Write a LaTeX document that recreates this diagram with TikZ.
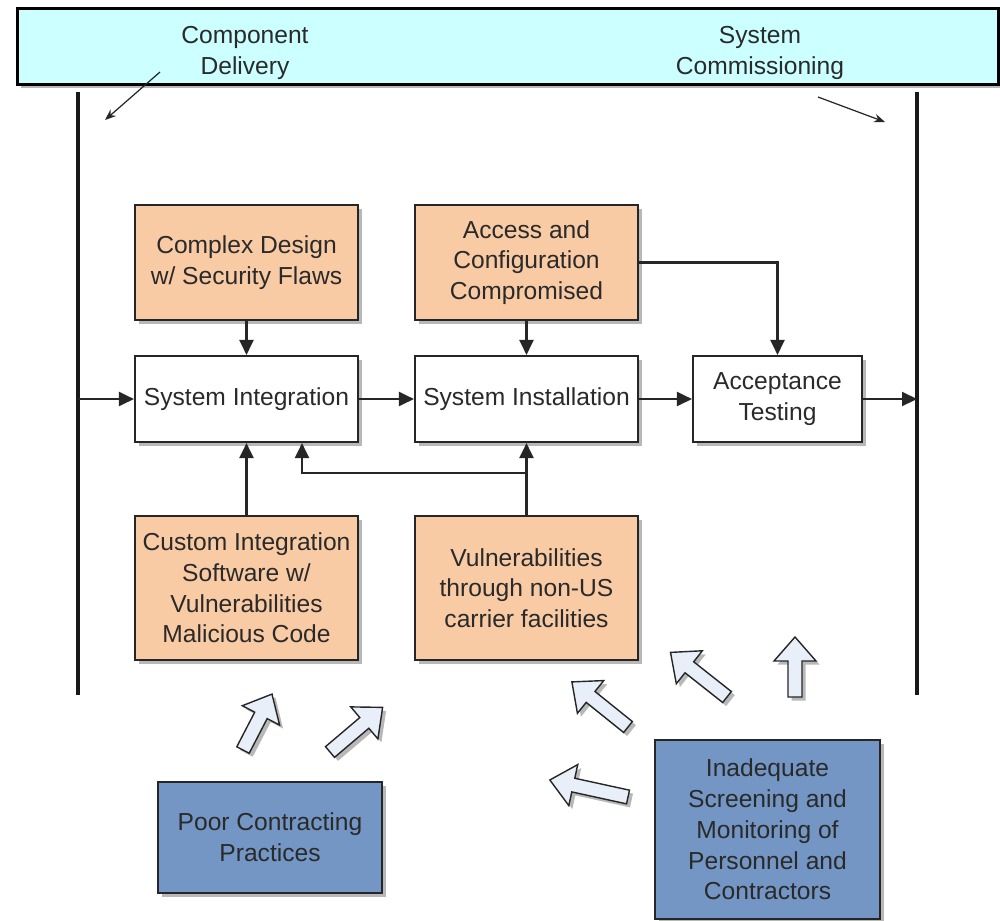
\documentclass[tikz,border=0pt]{standalone}
\usepackage{fontspec}
\setmainfont{Liberation Sans}
\usetikzlibrary{shadows,arrows.meta,calc}
\definecolor{peach}{HTML}{F9CBA5}
\definecolor{bluebox}{HTML}{7396C4}
\definecolor{bandcyan}{HTML}{CCFFFF}
\definecolor{fatfill}{HTML}{E8EFF9}
\definecolor{txt}{HTML}{2A2A2A}
\definecolor{shade}{HTML}{B8B8B8}
\tikzset{
  softshadow/.style={drop shadow={shadow xshift=0.7mm, shadow yshift=-0.7mm, opacity=1, fill=shade, draw=none}},
  basebox/.style={draw=black!85, line width=1.2pt, align=center, text=txt,
    font=\fontsize{14}{17.5}\selectfont, inner sep=0pt, softshadow},
  riskbox/.style={basebox, fill=peach, minimum width=44.6mm, minimum height=23mm},
  stagebox/.style={basebox, fill=white, minimum width=44.6mm, minimum height=17.2mm},
  causebox/.style={basebox, fill=bluebox},
  band/.style={draw=black, line width=1.7pt, fill=bandcyan, minimum width=196mm, minimum height=15.2mm, softshadow},
  bandlabel/.style={align=center, text=txt, font=\fontsize{14}{17.5}\selectfont},
  flow/.style={draw=black!85, line width=1.2pt, -{Triangle[length=3mm,width=2.8mm]}},
  thinarr/.style={draw=black!85, line width=0.7pt, -{Stealth[length=2.2mm,width=1.7mm]}},
  rail/.style={draw=black!90, line width=1.8pt},
  fatarr/.style={draw=black!85, line width=0.8pt, fill=fatfill, line join=miter, softshadow}
}
\newcommand\fatarrow[4]{%
  \draw[fatarr, shift={(#1,#2)}, rotate=#3]
    (0,-7) -- (#4-24,-7) -- (#4-24,-21) -- (#4,0) -- (#4-24,21) -- (#4-24,7) -- (0,7) -- cycle;}
\begin{document}
\begin{tikzpicture}[x=0.2mm,y=-0.2mm]
\useasboundingbox (0,0) rectangle (1000,920);

% top band
\node[band] (band) at (508,46) {};
\node[bandlabel] (cdl) at (245,53) {Component\\Delivery};
\node[bandlabel] (scl) at (760,53) {System\\Commissioning};

% rails
\coordinate (Ltop) at (78,92);
\coordinate (Lbot) at (78,695);
\coordinate (Rtop) at (917,92);
\coordinate (Rbot) at (917,695);
\coordinate (Lmid) at (78,399);
\coordinate (Rmid) at (917,399);
\draw[rail] (Ltop) -- (Lbot);
\draw[rail] (Rtop) -- (Rbot);

% thin arrows from band labels
\coordinate (cdA) at (160,72);
\coordinate (cdB) at (105,120);
\coordinate (scA) at (818,97);
\coordinate (scB) at (885,122);
\draw[thinarr] (cdA) -- (cdB);
\draw[thinarr] (scA) -- (scB);

% boxes
\node[riskbox] (cd) at (246.5,262.5) {Complex Design\\w/ Security Flaws};
\node[riskbox] (ac) at (526.5,262.5) {Access and\\Configuration\\Compromised};
\node[stagebox] (si) at (246.5,399) {System Integration};
\node[stagebox] (sn) at (526.5,399) {System Installation};
\node[stagebox, minimum width=33.8mm] (at) at (777.5,399) {Acceptance\\Testing};
\node[riskbox, minimum height=28.8mm] (cu) at (246.5,588) {Custom Integration\\Software w/\\Vulnerabilities\\Malicious Code};
\node[riskbox, minimum height=28.8mm] (vu) at (526.5,588) {Vulnerabilities\\through non-US\\carrier facilities};
\node[causebox, minimum width=44.8mm, minimum height=22.2mm] (pc) at (270,837.5) {Poor Contracting\\Practices};
\node[causebox, minimum width=45mm, minimum height=35.8mm] (in) at (767.5,829.5) {Inadequate\\Screening and\\Monitoring of\\Personnel and\\Contractors};

% flow connectors
\draw[flow] (Lmid) -- (si.west);
\draw[flow] (si.east) -- (sn.west);
\draw[flow] (sn.east) -- (at.west);
\draw[flow] (at.east) -- (Rmid);
\draw[flow] (cd.south) -- (si.north);
\draw[flow] (ac.south) -- (sn.north);
\draw[flow] (ac.east) -| (at.north);
\draw[flow] (cu.north) -- (si.south);
\draw[flow] (vu.north) -- (sn.south);
\draw[flow] (vu.north) -- ++(0,-42) -| ($(si.south)+(55.5,0)$);

% fat arrows
\fatarrow{243}{750}{62.6}{63}
\fatarrow{330}{752}{40.3}{69}
\fatarrow{628}{727}{141.2}{72}
\fatarrow{727}{697}{141.7}{72}
\fatarrow{795}{697}{90}{60}
\fatarrow{628}{797}{167.7}{80}
\end{tikzpicture}
\end{document}
